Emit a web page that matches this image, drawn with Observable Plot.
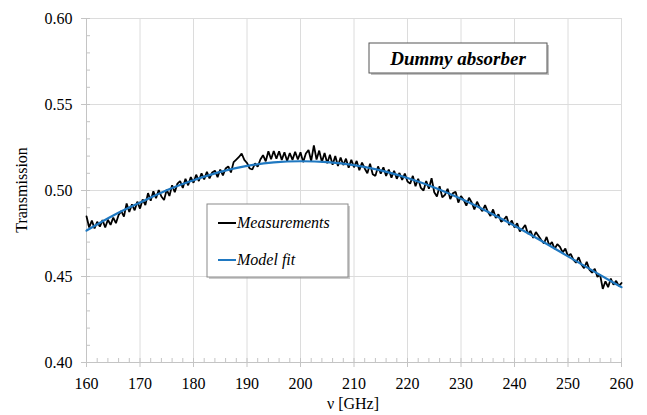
<!DOCTYPE html>
<html><head><meta charset="utf-8">
<script src="https://cdn.jsdelivr.net/npm/d3@7"></script>
<script src="https://cdn.jsdelivr.net/npm/@observablehq/plot@0.6"></script>
<style>body{margin:0;background:#fff}</style>
</head><body><div id="chart"></div>
<script>
// Tick values
const xTicks = [160,170,180,190,200,210,220,230,240,250,260];
const yTicks = [0.40,0.45,0.50,0.55,0.60];
const xMinor = d3.range(160, 261, 2);
const yMinor = d3.range(0.40, 0.6001, 0.01);

// Model fit (read every 5 GHz)
const fitFreq = [160,165,170,175,180,185,190,195,200,205,210,215,220,225,230,235,240,245,250,255,260];
const fitVal = [0.4767,0.4855,0.4930,0.5002,0.5060,0.5108,0.5143,0.5163,0.5170,0.5165,0.5148,0.5117,0.5073,0.5018,0.4952,0.4877,0.4795,0.4708,0.4617,0.4527,0.4438];

// Measurements, 160 to 260 GHz every 0.5 GHz
const measStart = 160, measStep = 0.5;
const measVal = [
0.4850,0.4785,0.4825,0.4780,0.4818,0.4790,0.4828,0.4785,0.4830,0.4800,
0.4842,0.4810,0.4858,0.4880,0.4848,0.4925,0.4875,0.4920,0.4885,0.4935,
0.4895,0.4948,0.4915,0.4985,0.4940,0.4995,0.4955,0.5002,0.4965,0.4945,
0.5005,0.4968,0.5030,0.4990,0.5040,0.5055,0.5015,0.5068,0.5030,0.5078,
0.5045,0.5092,0.5055,0.5100,0.5065,0.5108,0.5070,0.5105,0.5115,0.5078,
0.5122,0.5088,0.5128,0.5140,0.5105,0.5165,0.5180,0.5195,0.5215,0.5178,
0.5160,0.5128,0.5122,0.5158,0.5138,0.5180,0.5205,0.5170,0.5228,0.5182,
0.5230,0.5185,0.5228,0.5178,0.5222,0.5172,0.5218,0.5178,0.5225,0.5180,
0.5222,0.5165,0.5215,0.5235,0.5172,0.5262,0.5180,0.5232,0.5165,0.5218,
0.5158,0.5208,0.5150,0.5200,0.5142,0.5192,0.5148,0.5185,0.5132,0.5178,
0.5135,0.5172,0.5118,0.5162,0.5128,0.5100,0.5155,0.5095,0.5085,0.5140,
0.5098,0.5135,0.5085,0.5122,0.5075,0.5115,0.5068,0.5102,0.5062,0.5098,
0.5052,0.5040,0.5085,0.5025,0.5068,0.5015,0.5000,0.5055,0.5010,0.5072,
0.4990,0.4965,0.5025,0.4960,0.4975,0.5010,0.4950,0.4985,0.4992,0.4930,
0.4968,0.4945,0.4912,0.4958,0.4930,0.4890,0.4935,0.4902,0.4880,0.4915,
0.4878,0.4852,0.4890,0.4840,0.4862,0.4818,0.4830,0.4850,0.4800,0.4825,
0.4785,0.4810,0.4762,0.4778,0.4800,0.4748,0.4765,0.4725,0.4758,0.4735,
0.4712,0.4692,0.4730,0.4680,0.4700,0.4660,0.4688,0.4672,0.4640,0.4662,
0.4618,0.4632,0.4598,0.4580,0.4612,0.4570,0.4548,0.4585,0.4540,0.4522,
0.4545,0.4498,0.4510,0.4428,0.4472,0.4438,0.4488,0.4452,0.4475,0.4445,
0.4462
];

const measurements = measVal.map((t, i) => ({f: measStart + i * measStep, t}));
const fit = fitFreq.map((f, i) => ({f, t: fitVal[i]}));

const font = "'Liberation Serif', 'Times New Roman', serif";
const gridColor = "#dcdcdc";
const axisColor = "#c4c4c4";

const chart = Plot.plot({
  width: 647, height: 415,
  marginLeft: 86, marginRight: 26, marginTop: 18, marginBottom: 53,
  style: {fontSize: "16px", color: "#000", background: "#fff"},
  x: {domain: [160, 260]},
  y: {domain: [0.40, 0.60]},
  marks: [
    Plot.gridX(xTicks, {stroke: gridColor, strokeOpacity: 1}),
    Plot.gridY(yTicks, {stroke: gridColor, strokeOpacity: 1}),
    Plot.ruleX([160], {stroke: axisColor}),
    Plot.ruleY([0.40], {stroke: axisColor}),
    Plot.axisX(xMinor, {tickSize: 4, dy: -4, tickFormat: () => "", stroke: axisColor, label: null}),
    Plot.axisY(yMinor, {tickSize: 4, dx: 4, tickFormat: () => "", stroke: axisColor, label: null}),
    Plot.axisX(xTicks, {tickSize: 5, tickPadding: 10, tickFormat: d => String(d), stroke: axisColor, fill: "#000", label: null}),
    Plot.axisY(yTicks, {tickSize: 5, tickPadding: 9, tickFormat: d3.format(".2f"), stroke: axisColor, fill: "#000", label: null}),
    Plot.line(measurements, {x: "f", y: "t", stroke: "#000", strokeWidth: 1.8, strokeLinejoin: "miter"}),
    Plot.line(fit, {x: "f", y: "t", stroke: "#1f78c1", strokeWidth: 2.2, curve: "natural"})
  ]
});
document.getElementById("chart").append(chart);

const svg = d3.select(chart);
// Axis titles
svg.append("text").attr("x", 353).attr("y", 409).attr("text-anchor", "middle")
  .attr("fill", "#000").text("ν [GHz]");
svg.append("text").attr("transform", "translate(27,190) rotate(-90)").attr("text-anchor", "middle")
  .attr("fill", "#000").text("Transmission");

// Title box
const tb = svg.append("g");
tb.append("rect").attr("x", 371).attr("y", 45).attr("width", 178).attr("height", 30).attr("fill", "#9a9a9a").attr("opacity", 0.6);
tb.append("rect").attr("x", 369).attr("y", 43).attr("width", 178).attr("height", 30).attr("fill", "#fff").attr("stroke", "#555").attr("stroke-width", 1);
tb.append("text").attr("class", "ttl").attr("x", 458).attr("y", 64.5).attr("text-anchor", "middle")
  .attr("fill", "#000").text("Dummy absorber");

// Legend
const lg = svg.append("g");
lg.append("rect").attr("x", 209).attr("y", 206).attr("width", 141).attr("height", 73).attr("fill", "#9a9a9a").attr("opacity", 0.5);
lg.append("rect").attr("x", 207).attr("y", 204).attr("width", 141).attr("height", 73).attr("fill", "#fff").attr("stroke", "#8a8a8a").attr("stroke-width", 1);
const items = [{label: "Measurements", color: "#000", y: 223}, {label: "Model fit", color: "#1f78c1", y: 260}];
for (const it of items) {
  lg.append("line").attr("x1", 218).attr("x2", 236).attr("y1", it.y).attr("y2", it.y).attr("stroke", it.color).attr("stroke-width", 2);
  lg.append("text").attr("class", "leg").attr("x", 237).attr("y", it.y + 5).attr("text-anchor", "start")
    .attr("fill", "#000").text(it.label);
}
// Serif font on every text
svg.selectAll("text").each(function() {
  this.style.setProperty("font-family", font, "important");
  this.style.setProperty("font-size", "16px", "important");
});
svg.selectAll("text.ttl").each(function() {
  this.style.setProperty("font-size", "19px", "important");
  this.style.setProperty("font-weight", "bold", "important");
  this.style.setProperty("font-style", "italic", "important");
});
svg.selectAll("text.leg").each(function() {
  this.style.setProperty("font-style", "italic", "important");
});
</script>
</body></html>
